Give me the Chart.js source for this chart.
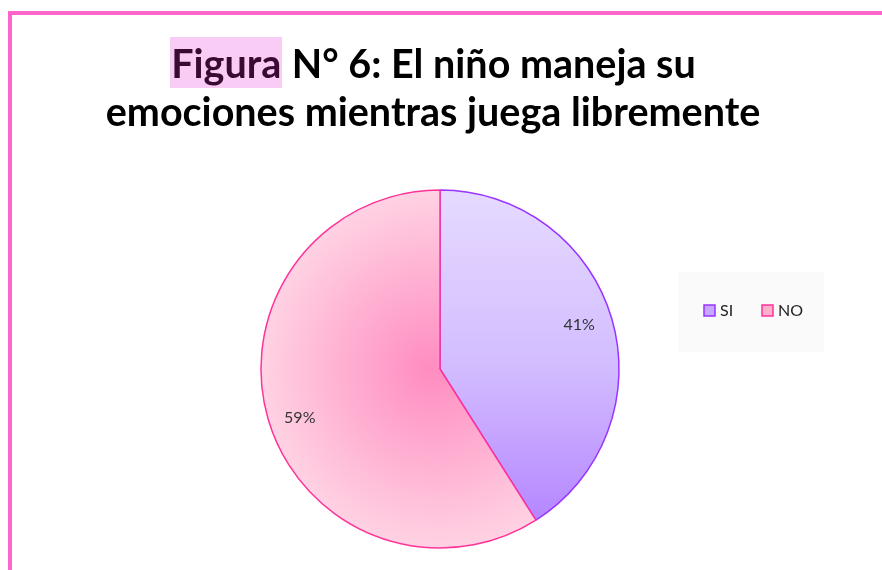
<!DOCTYPE html>
<html><head><meta charset="utf-8">
<script src="https://cdn.jsdelivr.net/npm/chart.js@4.4.1/dist/chart.umd.min.js"></script>
<style>
html,body{margin:0;padding:0;background:#fff;}
#wrap{position:relative;width:882px;height:570px;overflow:hidden;}
#frame{position:absolute;left:8px;top:11px;width:900px;height:600px;border-left:4px solid #ff66cc;border-top:4px solid #ff66cc;box-sizing:border-box;}
#title{position:absolute;left:0;top:39px;width:866px;text-align:center;font-family:Lato,"Open Sans",sans-serif;font-weight:bold;font-size:39.5px;line-height:48px;color:#000;}
#title .hl{background:#f9ccf5;color:#3a0a33;padding:2px 1px;}
canvas{position:absolute;left:0;top:0;}
</style></head>
<body>
<div id="wrap">
<div id="frame"></div>
<canvas id="c" width="882" height="570"></canvas>
<div id="title"><span class="hl">Figura</span> N° 6: El niño maneja su<br>emociones mientras juega libremente</div>
</div>
<script>
const categories = ["SI", "NO"];
const values = [41, 59];

const total = values.reduce((a,b)=>a+b,0);

function bg(ctx){
  const chart = ctx.chart; const area = chart.chartArea;
  if(!area) return '#ccc';
  const c = chart.ctx;
  const cx = (area.left+area.right)/2, cy=(area.top+area.bottom)/2, r = 179;
  if(ctx.dataIndex===0){
    const g = c.createLinearGradient(0, cy-r, 0, cy+r);
    g.addColorStop(0,'#e6daff'); g.addColorStop(0.5,'#d2bcff'); g.addColorStop(1,'#b07cff');
    return g;
  } else {
    const g = c.createRadialGradient(cx-10, cy, 0, cx, cy, r);
    g.addColorStop(0,'#ff8cc0'); g.addColorStop(1,'#ffd2e3');
    return g;
  }
}

const labelPlugin = {
  id:'labels',
  afterDatasetsDraw(chart){
    const c = chart.ctx; const meta = chart.getDatasetMeta(0);
    c.save();
    c.font = '16px Lato, "Open Sans", sans-serif';
    c.fillStyle = '#333'; c.textAlign='center'; c.textBaseline='middle';
    meta.data.forEach((arc,i)=>{
      const mid = (arc.startAngle+arc.endAngle)/2;
      const rr = arc.outerRadius*0.81;
      const x = arc.x + Math.cos(mid)*rr, y = arc.y + Math.sin(mid)*rr + (i===1?8:-4);
      c.fillText(Math.round(values[i]/total*100)+'%', x - (i===1?1:0), y);
    });
    // legend
    c.fillStyle = '#fafafa';
    c.fillRect(678, 272, 146, 80);
    const items = [{x:704, fill:'#c8a8ff', stroke:'#9933ff'},{x:762, fill:'#ffb0cc', stroke:'#ff3399'}];
    c.textAlign='left'; c.font='16px Lato, "Open Sans", sans-serif';
    items.forEach((it,i)=>{
      c.fillStyle = it.fill; c.fillRect(it.x, 305, 11, 11);
      c.strokeStyle = it.stroke; c.lineWidth=1.5; c.strokeRect(it.x, 305, 11, 11);
      c.fillStyle='#222'; c.fillText(categories[i], it.x+16, 311);
    });
    c.restore();
  }
};

new Chart(document.getElementById('c'), {
  type:'pie',
  data:{labels:categories, datasets:[{data:values, backgroundColor:bg, borderColor:['#9933ff','#ff3399'], borderWidth:1.5}]},
  options:{
    responsive:false, animation:false, radius:179,
    layout:{padding:{top:180,bottom:12,left:10,right:12}},
    plugins:{legend:{display:false}, tooltip:{enabled:false}, title:{display:false}}
  },
  plugins:[labelPlugin]
});
</script>
</body></html>
